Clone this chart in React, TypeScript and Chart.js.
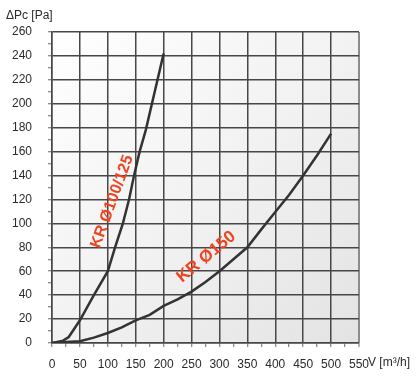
import { useEffect, useRef } from 'react';
import { Chart, registerables } from 'chart.js';

Chart.register(...registerables);

// Airflow V [m³/h] and pressure drop ΔPc [Pa]
const kr100Flow = [0, 20, 30, 50, 75, 100, 113, 127, 138, 147, 157, 168, 200];
const kr100Pressure = [0, 2, 5, 19, 40, 60, 80, 100, 120, 140, 160, 178, 242];

const kr150Flow = [0, 25, 50, 75, 100, 125, 150, 175, 200, 225, 250, 275, 300, 325, 350, 375, 400, 425, 450, 475, 500];
const kr150Pressure = [0, 0.8, 1.5, 4.5, 8.4, 13, 19, 23.5, 31, 36.5, 43, 51, 60, 70, 80, 95, 109.5, 124, 140, 157, 175];

const seriesLabels = ['KR Ø100/125', 'KR Ø150'];
const xTickValues = [0, 50, 100, 150, 200, 250, 300, 350, 400, 450, 500, 550];
const yTickValues = [0, 20, 40, 60, 80, 100, 120, 140, 160, 180, 200, 220, 240, 260];
const yAxisTitle = 'ΔPc [Pa]';
const xAxisTitle = 'V [m³/h]';

const toPoints = (xs: number[], ys: number[]) => xs.map((x, i) => ({ x, y: ys[i] }));

const decorPlugin = {
  id: 'decor',
  beforeDraw(chart: any) {
    const { ctx, chartArea: a } = chart;
    ctx.save();
    const g = ctx.createLinearGradient(a.left, a.top, a.right, a.bottom);
    g.addColorStop(0, '#ffffff');
    g.addColorStop(0.5, '#f2f2f2');
    g.addColorStop(1, '#e3e3e3');
    ctx.fillStyle = g;
    ctx.fillRect(a.left, a.top, a.right - a.left, a.bottom - a.top);
    ctx.restore();
  },
  afterDraw(chart: any) {
    const { ctx, scales } = chart;
    const xs = scales.x;
    const ys = scales.y;
    ctx.save();
    ctx.fillStyle = '#2a2a2a';
    ctx.font = '12px "Liberation Sans", Arial, sans-serif';
    ctx.textBaseline = 'middle';
    ctx.textAlign = 'left';
    ctx.fillText(yAxisTitle, 6, 16);
    ctx.fillText(xAxisTitle, 368, 363);

    ctx.fillStyle = '#ee4420';
    ctx.textAlign = 'center';
    const labels = [
      { text: seriesLabels[0], x: 107.8, y: 118.2, angle: -70, size: 16 },
      { text: seriesLabels[1], x: 276.5, y: 72, angle: -39.5, size: 17 },
    ];
    labels.forEach((l) => {
      ctx.save();
      ctx.font = `bold ${l.size}px "Liberation Sans", Arial, sans-serif`;
      ctx.translate(xs.getPixelForValue(l.x), ys.getPixelForValue(l.y));
      ctx.rotate((l.angle * Math.PI) / 180);
      ctx.fillText(l.text, 0, 0);
      ctx.restore();
    });
    ctx.restore();
  },
};

export default function App() {
  const ref = useRef<HTMLCanvasElement>(null);

  useEffect(() => {
    document.body.style.margin = '0';
    const canvas = ref.current;
    if (!canvas) return;
    const chart = new Chart(canvas, {
      type: 'line',
      data: {
        datasets: [
          {
            label: seriesLabels[0],
            data: toPoints(kr100Flow, kr100Pressure),
            borderColor: '#333333',
            borderWidth: 2.5,
            pointRadius: 0,
            tension: 0,
          },
          {
            label: seriesLabels[1],
            data: toPoints(kr150Flow, kr150Pressure),
            borderColor: '#333333',
            borderWidth: 2.5,
            pointRadius: 0,
            tension: 0,
          },
        ],
      },
      options: {
        responsive: false,
        animation: false,
        devicePixelRatio: 1,
        layout: { padding: { top: 32, right: 61, left: 0, bottom: 0 } },
        plugins: { legend: { display: false }, tooltip: { enabled: false } },
        scales: {
          x: {
            type: 'linear',
            min: 0,
            max: 550,
            afterFit: (s: any) => {
              s.height = 36;
            },
            ticks: {
              stepSize: 25,
              autoSkip: false,
              maxRotation: 0,
              padding: 10,
              color: '#2a2a2a',
              font: { family: '"Liberation Sans", Arial, sans-serif', size: 12 },
              callback: (v: any) => (xTickValues.includes(Number(v)) ? String(v) : ''),
            },
            grid: {
              color: (c: any) => {
                const v = c.tick ? c.tick.value : 0;
                if (v % 50 !== 0) return 'rgba(0,0,0,0)';
                return v === 550 ? '#8c8c8c' : '#474747';
              },
              lineWidth: (c: any) => (c.tick && c.tick.value === 550 ? 2 : 1.5),
              tickColor: '#6a6a6a',
              tickLength: 4,
              tickWidth: 1,
            },
            border: { display: true, color: '#474747', width: 1.5 },
          },
          y: {
            type: 'linear',
            min: 0,
            max: 260,
            afterFit: (s: any) => {
              s.width = 52;
            },
            ticks: {
              stepSize: 10,
              autoSkip: false,
              padding: 16,
              color: '#2a2a2a',
              font: { family: '"Liberation Sans", Arial, sans-serif', size: 12 },
              callback: (v: any) => (yTickValues.includes(Number(v)) ? String(v) : ''),
            },
            grid: {
              color: (c: any) => {
                const v = c.tick ? c.tick.value : 0;
                return v % 20 !== 0 ? 'rgba(0,0,0,0)' : '#474747';
              },
              lineWidth: 1.5,
              tickColor: '#6a6a6a',
              tickLength: 4,
              tickWidth: 1,
            },
            border: { display: true, color: '#474747', width: 1.5 },
          },
        },
      },
      plugins: [decorPlugin],
    });
    return () => chart.destroy();
  }, []);

  return <canvas ref={ref} width={420} height={379} style={{ display: 'block' }} />;
}
